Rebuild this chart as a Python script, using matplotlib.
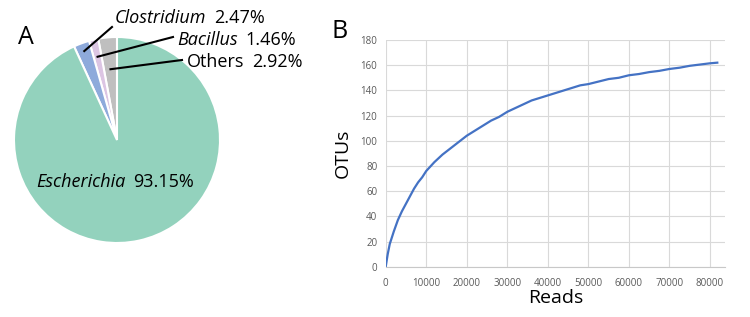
import matplotlib
matplotlib.use("Agg")
import matplotlib.pyplot as plt
import numpy as np

plt.rcParams['font.family'] = ['Open Sans', 'DejaVu Sans']

# ---- Data ----
genera = ["Others", "Bacillus", "Clostridium", "Escherichia"]
shares = [2.92, 1.46, 2.47, 93.15]
pie_colors = ["#bfbfbf", "#dcc5e3", "#8eaadb", "#93d2bd"]

reads = [0, 500, 1000, 2000, 3000, 4000, 5000, 6000, 7000, 8000, 9000, 10000,
         12000, 14000, 16000, 18000, 20000, 22000, 24000, 26000, 28000, 30000,
         32000, 34000, 36000, 38000, 40000, 42000, 44000, 46000, 48000, 50000,
         52500, 55000, 57500, 60000, 62500, 65000, 67500, 70000, 72500, 75000,
         77500, 80000, 81800]
otus = [0, 10, 18, 28, 37, 44, 50, 56, 62, 67, 71, 76,
        83, 89, 94, 99, 104, 108, 112, 116, 119, 123,
        126, 129, 132, 134, 136, 138, 140, 142, 144, 145,
        147, 149, 150, 152, 153, 154.5, 155.5, 157, 158, 159.5,
        160.5, 161.5, 162]
x_ticks = list(range(0, 80001, 10000))
y_ticks = list(range(0, 181, 20))

W, H = 750, 317
fig = plt.figure(figsize=(W / 100, H / 100), dpi=100)

# ---- Panel A: pie ----
cx, cy, r = 117, 140, 103
axA = fig.add_axes([(cx - r) / W, (H - cy - r) / H, 2 * r / W, 2 * r / H])
wedges, _ = axA.pie(shares, colors=pie_colors, startangle=90, counterclock=True,
                    wedgeprops=dict(edgecolor="white", linewidth=1.5))
axA.set_xlim(-1, 1)
axA.set_ylim(-1, 1)

fsz = 13
label_specs = {
    "Clostridium": dict(r=0.92, txt=(115, 18), italic=True),
    "Bacillus": dict(r=0.83, txt=(177, 40), italic=True),
    "Others": dict(r=0.69, txt=(187, 62), italic=False),
}
line_end = {"Clostridium": (112, 27), "Bacillus": (173, 37), "Others": (182, 60)}
for w, name, share in zip(wedges, genera, shares):
    if name not in label_specs:
        continue
    spec = label_specs[name]
    ang = np.deg2rad((w.theta1 + w.theta2) / 2)
    rr = spec["r"]
    px = (cx + rr * r * np.cos(ang))
    py = (cy - rr * r * np.sin(ang))
    ex, ey = line_end[name]
    fig.add_artist(plt.Line2D([px / W, ex / W], [1 - py / H, 1 - ey / H],
                              color="black", lw=1.5, transform=fig.transFigure))
    tx, ty = spec["txt"]
    t1 = fig.text(tx / W, 1 - ty / H, name, fontsize=fsz,
                  style="italic" if spec["italic"] else "normal",
                  va="center", ha="left")
    fig.canvas.draw()
    bb = t1.get_window_extent()
    fig.text((bb.x1 + 8) / W, 1 - ty / H, f"{share:.2f}%", fontsize=fsz,
             va="center", ha="left")

t = fig.text(36 / W, 1 - 182 / H, "Escherichia", fontsize=fsz, style="italic",
             va="center", ha="left")
fig.canvas.draw()
bb = t.get_window_extent()
fig.text((bb.x1 + 8) / W, 1 - 182 / H, f"{shares[3]:.2f}%", fontsize=fsz,
         va="center", ha="left")

fig.text(18 / W, 1 - 38 / H, "A", fontsize=18, va="center", ha="left")
fig.text(332 / W, 1 - 32 / H, "B", fontsize=18, va="center", ha="left")

# ---- Panel B: rarefaction curve ----
left, right, top, bottom = 385.7, 725, 40, 266.7
axB = fig.add_axes([left / W, (H - bottom) / H, (right - left) / W, (bottom - top) / H])
axB.plot(reads, otus, color="#4472c4", lw=1.6)
axB.set_xlim(0, 83700)
axB.set_ylim(0, 180)
axB.set_xticks(x_ticks)
axB.set_yticks(y_ticks)
axB.tick_params(axis="x", length=0, labelsize=7, colors="#595959", pad=8)
axB.tick_params(axis="y", length=0, labelsize=7, colors="#595959", pad=6)
axB.grid(True, color="#d9d9d9", lw=0.8)
for s in ["top", "right", "left"]:
    axB.spines[s].set_visible(False)
axB.spines["bottom"].set_color("#c8c8c8")
axB.set_axisbelow(True)
axB.set_xlabel("Reads", fontsize=14, labelpad=0)
axB.set_ylabel("OTUs", fontsize=14, labelpad=6)

fig.savefig("out.png", dpi=100)
